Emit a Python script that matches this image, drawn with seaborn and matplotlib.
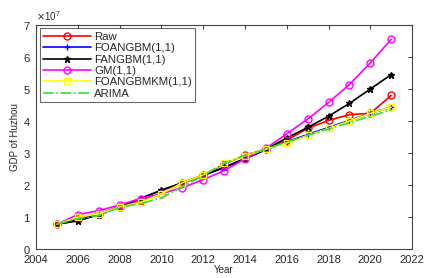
import numpy as np
import pandas as pd
import matplotlib
matplotlib.use("Agg")
import matplotlib.pyplot as plt
import seaborn as sns
from matplotlib.ticker import ScalarFormatter

# GDP of Huzhou (units of 1e7)
years = list(range(2005, 2022))
raw = [0.78, 0.95, 1.10, 1.33, 1.50, 1.73, 2.07, 2.32, 2.65, 2.93, 3.12, 3.40, 3.77, 4.02, 4.20, 4.24, 4.80]
foangbm = [0.78, 0.90, 1.08, 1.33, 1.58, 1.84, 2.07, 2.30, 2.55, 2.82, 3.10, 3.35, 3.58, 3.80, 4.02, 4.24, 4.43]
fangbm = [0.78, 0.88, 1.08, 1.33, 1.58, 1.84, 2.07, 2.30, 2.55, 2.83, 3.12, 3.47, 3.80, 4.15, 4.55, 5.00, 5.45]
gm = [0.78, 1.08, 1.20, 1.38, 1.58, 1.73, 1.92, 2.17, 2.45, 2.82, 3.15, 3.60, 4.06, 4.58, 5.14, 5.82, 6.55]
foangbmkm = [0.78, 1.00, 1.10, 1.32, 1.46, 1.73, 2.07, 2.32, 2.68, 2.92, 3.12, 3.32, 3.55, 3.77, 4.00, 4.24, 4.43]
arima = [0.78, 0.95, 1.05, 1.30, 1.42, 1.60, 1.95, 2.30, 2.68, 2.93, 3.12, 3.35, 3.55, 3.75, 3.95, 4.15, 4.35]
scale = 1e7

series = [
    ("Raw", raw, "red", "-", "o", "none"),
    ("FOANGBM(1,1)", foangbm, "blue", "-", "+", "blue"),
    ("FANGBM(1,1)", fangbm, "black", "-", "*", "black"),
    ("GM(1,1)", gm, "magenta", "-", "o", "none"),
    ("FOANGBMKM(1,1)", foangbmkm, "yellow", "-", "s", "none"),
    ("ARIMA", arima, "#33dd33", "-.", None, "none"),
]

sns.set_style("white")
plt.rcParams["font.family"] = ["Liberation Sans", "DejaVu Sans"]

fig = plt.figure(figsize=(4.31, 2.78), dpi=100)
ax = fig.add_axes([0.084, 0.104, 0.872, 0.806])

for name, vals, color, ls, mk, mfc in series:
    df = pd.DataFrame({"Year": years, "GDP": np.array(vals) * scale})
    sns.lineplot(data=df, x="Year", y="GDP", ax=ax, color=color, linestyle=ls,
                 marker=mk, markersize=5, markerfacecolor=mfc, markeredgecolor=color,
                 markeredgewidth=1.0, linewidth=1.2, label=name)

ax.set_xlim(2004, 2022)
ax.set_ylim(0, 7e7)
ax.set_xticks(range(2004, 2023, 2))
ax.set_yticks(np.arange(0, 8) * scale)
fmt = ScalarFormatter(useMathText=True)
fmt.set_powerlimits((0, 0))
ax.yaxis.set_major_formatter(fmt)
ax.yaxis.get_offset_text().set_fontsize(7)
ax.tick_params(direction="in", length=3, labelsize=8, top=True, right=True,
               color="#444444")
ax.tick_params(axis="x", pad=4)
ax.tick_params(axis="y", pad=4)
for s in ax.spines.values():
    s.set_color("#444444")
    s.set_linewidth(0.8)
ax.set_xlabel("Year", fontsize=7, labelpad=0)
ax.set_ylabel("GDP of Huzhou", fontsize=7, labelpad=2)

leg = ax.legend(loc="upper left", fontsize=8.2, frameon=True, fancybox=False,
                borderaxespad=0.3, handlelength=4.2, labelspacing=0.12,
                borderpad=0.3, handletextpad=0.3)
leg.get_frame().set_edgecolor("#444444")
leg.get_frame().set_linewidth(0.8)

fig.savefig("out.png", dpi=100)
